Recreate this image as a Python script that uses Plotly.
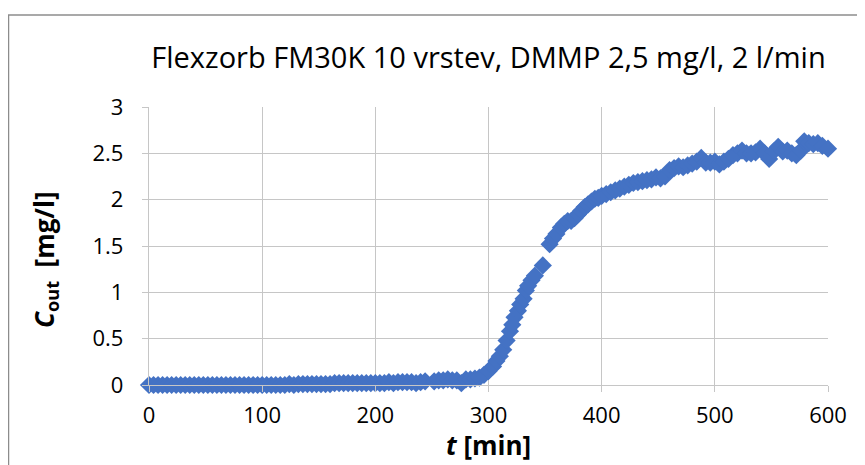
import plotly.graph_objects as go

# ---- data ----
t_min = [0, 4, 8, 12, 16, 20, 24, 28, 32, 36, 40, 44, 48, 52, 56, 60, 64, 68, 72, 76,
         80, 84, 88, 92, 96, 100, 104, 108, 112, 116, 120, 124, 128, 132, 136, 140, 144, 148,
         152, 156, 160, 164, 168, 172, 176, 180, 184, 188, 192, 196, 200, 204, 208, 212,
         216, 220, 224, 228, 232, 236, 240, 244, 248, 252, 256, 260, 264, 268, 272, 276,
         280, 284, 288, 292, 296, 300, 304, 307, 310, 313, 316, 319, 321, 323, 326, 328,
         331, 333, 335, 338, 341, 348, 354, 357, 360, 364, 367, 370, 373, 376, 379, 382,
         385, 388, 391, 394, 397, 400, 404, 408, 412, 416, 420, 424, 428, 432, 436, 440,
         444, 448, 452, 456, 460, 464, 468, 472, 476, 480, 484, 488, 492, 496, 500, 504,
         508, 512, 516, 520, 524, 528, 532, 536, 540, 544, 548, 552, 556, 560, 564, 568,
         572, 576, 579, 583, 587, 591, 595, 600]

c_out = [0.00, 0.00, 0.00, 0.00, 0.00, 0.00, 0.00, 0.00, 0.00, 0.00, 0.00, 0.00, 0.00, 0.00,
         0.00, 0.00, 0.00, 0.00, 0.00, 0.00, 0.00, 0.00, 0.00, 0.00, 0.00, 0.00, 0.00, 0.00,
         0.00, 0.00, 0.00, 0.01, 0.00, 0.01, 0.01, 0.01, 0.01, 0.01,
         0.01, 0.01, 0.01, 0.02, 0.02, 0.02, 0.02, 0.02, 0.02, 0.02, 0.02, 0.02, 0.02, 0.02,
         0.02, 0.03, 0.02, 0.03, 0.03, 0.03, 0.03, 0.02, 0.03, 0.04, -0.01, 0.04, 0.05, 0.05,
         0.06, 0.05, 0.05, 0.02, 0.06, 0.06, 0.07, 0.08, 0.11, 0.15, 0.20, 0.26, 0.31, 0.38,
         0.48, 0.58, 0.65, 0.73, 0.80, 0.87, 0.93, 1.02, 1.07, 1.13, 1.18, 1.29, 1.52, 1.58,
         1.63, 1.70, 1.74, 1.77, 1.77, 1.80, 1.84, 1.88, 1.92, 1.95, 1.98, 2.01, 2.02, 2.04,
         2.06, 2.08, 2.10, 2.12, 2.14, 2.16, 2.18, 2.19, 2.20, 2.21, 2.22, 2.24, 2.23, 2.25,
         2.32, 2.34, 2.36, 2.35, 2.37, 2.39, 2.41, 2.45, 2.40, 2.40, 2.41, 2.38, 2.41, 2.44,
         2.48, 2.50, 2.53, 2.50, 2.50, 2.51, 2.55, 2.50, 2.44, 2.52, 2.57, 2.52, 2.53, 2.50,
         2.48, 2.53, 2.63, 2.61, 2.60, 2.61, 2.58, 2.55]

x_ticks = [0, 100, 200, 300, 400, 500, 600]
y_ticks = [0, 0.5, 1, 1.5, 2, 2.5, 3]
y_tick_labels = ["0", "0.5", "1", "1.5", "2", "2.5", "3"]

title_text = "Flexzorb FM30K 10 vrstev, DMMP 2,5 mg/l, 2 l/min"
x_title = "<b><i>t</i> [min]</b>"
y_title = "<b><i>C</i><sub>out</sub>  [mg/l]</b>"

FONT = "Open Sans"
GRID = "#C6C6C6"
BLUE = "#4472C4"

fig = go.Figure()
fig.add_trace(go.Scatter(
    x=t_min, y=c_out, mode="markers",
    marker=dict(symbol="diamond", size=14, color=BLUE, line=dict(width=0)),
    cliponaxis=False, showlegend=False,
))

# page offset of 8 px (browser body margin) is compensated here
W, H = 865, 465
L, R, T, B = 141, 45, 99, 88
pw, ph = W - L - R, H - T - B

def px(xp):
    return (xp - L) / pw

def py(yp):
    return (H - B - yp) / ph

fig.update_layout(
    width=W, height=H,
    margin=dict(l=L, r=R, t=T, b=B, autoexpand=False),
    paper_bgcolor="white", plot_bgcolor="white",
    font=dict(family=FONT, color="#000000", size=22),
    title=dict(text=title_text, x=0.5, xref="paper", xanchor="center",
               y=1 - 50 / H, yanchor="middle",
               font=dict(family=FONT, size=29, color="#000000")),
    xaxis=dict(range=[0, 600], tickvals=x_ticks, ticktext=[str(v) for v in x_ticks],
               showgrid=True, gridcolor=GRID, gridwidth=1.3,
               showline=True, linecolor=GRID, linewidth=1.3,
               ticks="outside", ticklen=6, tickcolor=GRID, tickwidth=1.3,
               zeroline=False, automargin=False,
               tickfont=dict(family=FONT, size=22),
               ticklabelstandoff=4),
    yaxis=dict(range=[0, 3], tickvals=y_ticks, ticktext=y_tick_labels,
               showgrid=True, gridcolor=GRID, gridwidth=1.3,
               showline=True, linecolor=GRID, linewidth=1.3,
               ticks="outside", ticklen=6, tickcolor=GRID, tickwidth=1.3,
               zeroline=False, automargin=False,
               tickfont=dict(family=FONT, size=22),
               ticklabelstandoff=14),
)

# axis titles
fig.add_annotation(text=x_title, xref="paper", yref="paper",
                   x=0.5, y=py(437), xanchor="center", yanchor="middle",
                   showarrow=False, font=dict(family=FONT, size=26, color="#000000"))
fig.add_annotation(text=y_title, xref="paper", yref="paper",
                   x=px(37), y=py(251), xanchor="center", yanchor="middle",
                   textangle=-90, showarrow=False,
                   font=dict(family=FONT, size=26, color="#000000"))

# outer chart border (top and left visible in reference)
fig.add_shape(type="line", xref="paper", yref="paper",
              x0=px(0), x1=px(870), y0=py(7), y1=py(7),
              line=dict(color="#8C8C8C", width=1.5))
fig.add_shape(type="line", xref="paper", yref="paper",
              x0=px(0.5), x1=px(0.5), y0=py(7), y1=py(470),
              line=dict(color="#8C8C8C", width=1.5))

fig.write_html("out.html")
